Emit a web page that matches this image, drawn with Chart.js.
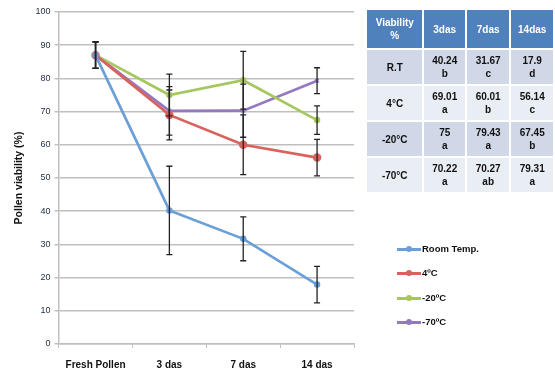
<!DOCTYPE html>
<html><head><meta charset="utf-8">
<script src="https://cdn.jsdelivr.net/npm/chart.js@4"></script>
<style>
html,body{margin:0;padding:0;background:#fff;}
#wrap{position:relative;width:555px;height:371px;overflow:hidden;font-family:"Liberation Sans",Arial,sans-serif;}
#c{position:absolute;left:0;top:0;}
table{position:absolute;left:365px;top:8px;border-collapse:separate;border-spacing:2px;font-weight:bold;font-size:10px;line-height:13px;text-align:center;}
table td{padding:0;}
.h td{background:#4F81BD;color:#fff;height:38px;}
.r td{height:34px;color:#111;}
.a td{background:#D0D8E8;}
.b td{background:#E9EDF4;}
#legend{position:absolute;left:397px;top:241px;font-size:9.5px;font-weight:bold;color:#111;}
.li{position:relative;height:24.3px;}
.ln{position:absolute;left:0;top:7px;width:24px;height:3px;}
.mk{position:absolute;left:9px;top:5px;width:6px;height:6px;border-radius:50%;}
.tx{position:absolute;left:25px;top:2px;white-space:nowrap;}
</style></head><body>
<div id="wrap">
<canvas id="c" width="555" height="382"></canvas>
<table id="tbl"></table>
<div id="legend"></div>
</div>
<script>
const categories = ['Fresh Pollen', '3 das', '7 das', '14 das'];
const seriesNames = ['Room Temp.', '4ºC', '-20ºC', '-70ºC'];
const roomTemp = [87, 40.24, 31.67, 17.9];
const c4 = [87, 69.01, 60.01, 56.14];
const cm20 = [87, 75, 79.43, 67.45];
const cm70 = [87, 70.22, 70.27, 79.31];
const roomTempErr = [4, 13.3, 6.6, 5.5];
const c4Err = [4, 7.5, 9, 5.5];
const cm20Err = [4, 6.3, 8.7, 4.3];
const cm70Err = [4, 7.3, 8, 3.9];
const yTicks = [0, 10, 20, 30, 40, 50, 60, 70, 80, 90, 100];

const tableHeader = ['Viability<br>%', '3das', '7das', '14das'];
const tableRows = ['R.T', '4°C', '-20°C', '-70°C'];
const tableValues = [['40.24','31.67','17.9'],['69.01','60.01','56.14'],['75','79.43','67.45'],['70.22','70.27','79.31']];
const tableLetters = [['b','c','d'],['a','b','c'],['a','a','b'],['a','ab','a']];

const colors = ['#6A9FD8', '#D9625C', '#A5C75E', '#9478C0'];

// table
const tbl = document.getElementById('tbl');
let html = '<tr class="h">' + tableHeader.map((h,i)=>'<td style="width:'+[56,41,43,42][i]+'px">'+h+'</td>').join('') + '</tr>';
tableRows.forEach((r,i)=>{
  html += '<tr class="r '+(i%2===0?'a':'b')+'"><td>'+r+'</td>' +
    tableValues[i].map((v,j)=>'<td>'+v+'<br>'+tableLetters[i][j]+'</td>').join('') + '</tr>';
});
tbl.innerHTML = html;

// legend
const lg = document.getElementById('legend');
lg.innerHTML = seriesNames.map((n,i)=>'<div class="li"><div class="ln" style="background:'+colors[i]+'"></div><div class="mk" style="background:'+colors[i]+'"></div><div class="tx">'+n+'</div></div>').join('');

const errs = [roomTempErr, c4Err, cm20Err, cm70Err];
const errPlugin = {
  id: 'errbars',
  afterDatasetsDraw(chart) {
    const ctx = chart.ctx, y = chart.scales.y;
    ctx.save();
    ctx.strokeStyle = '#222';
    ctx.lineWidth = 1.3;
    chart.data.datasets.forEach((ds, di) => {
      const meta = chart.getDatasetMeta(di);
      ds.data.forEach((v, i) => {
        const x = meta.data[i].x;
        const e = errs[di][i];
        const yt = y.getPixelForValue(v + e), yb = y.getPixelForValue(v - e);
        ctx.beginPath();
        ctx.moveTo(x, yt); ctx.lineTo(x, yb);
        ctx.moveTo(x - 3, yt); ctx.lineTo(x + 3, yt);
        ctx.moveTo(x - 3, yb); ctx.lineTo(x + 3, yb);
        ctx.stroke();
      });
    });
    ctx.restore();
  }
};

const dataSets = [roomTemp, c4, cm20, cm70];
new Chart(document.getElementById('c'), {
  type: 'line',
  data: {
    labels: categories,
    datasets: dataSets.map((d, i) => ({
      label: seriesNames[i],
      data: d,
      borderColor: colors[i],
      backgroundColor: colors[i],
      borderWidth: 2.7,
      pointRadius: [2.5, 3.5, 2.5, 2.5][i],
      pointStyle: ['circle','circle','circle','crossRot'][i],
      pointBorderWidth: 1.5,
      tension: 0
    }))
  },
  options: {
    responsive: false,
    animation: false,
    layout: { padding: { left: 13, right: 201, top: 12, bottom: 0 } },
    plugins: { legend: { display: false }, tooltip: { enabled: false } },
    scales: {
      x: {
        offset: true,
        grid: { offset: true, drawOnChartArea: false, drawTicks: true, tickLength: 4, color: '#BFBFBF' },
        border: { color: '#BFBFBF', width: 1.5 },
        ticks: { color: '#111', font: { family: 'Liberation Sans', size: 10, weight: 'bold' }, padding: 11 }
      },
      y: {
        min: 0, max: 100,
        afterBuildTicks(axis) { axis.ticks = yTicks.map(v => ({ value: v })); },
        grid: { color: '#BFBFBF', lineWidth: 1.5, drawTicks: true, tickLength: 4 },
        border: { color: '#BFBFBF', width: 1.5 },
        ticks: { color: '#1F2A44', font: { family: 'Liberation Sans', size: 9 }, padding: 4 },
        title: { display: true, text: 'Pollen viability (%)', color: '#111', font: { family: 'Liberation Sans', size: 10.5, weight: 'bold' }, padding: { top: 0, bottom: 6 } }
      }
    }
  },
  plugins: [errPlugin]
});
</script>
</body></html>
